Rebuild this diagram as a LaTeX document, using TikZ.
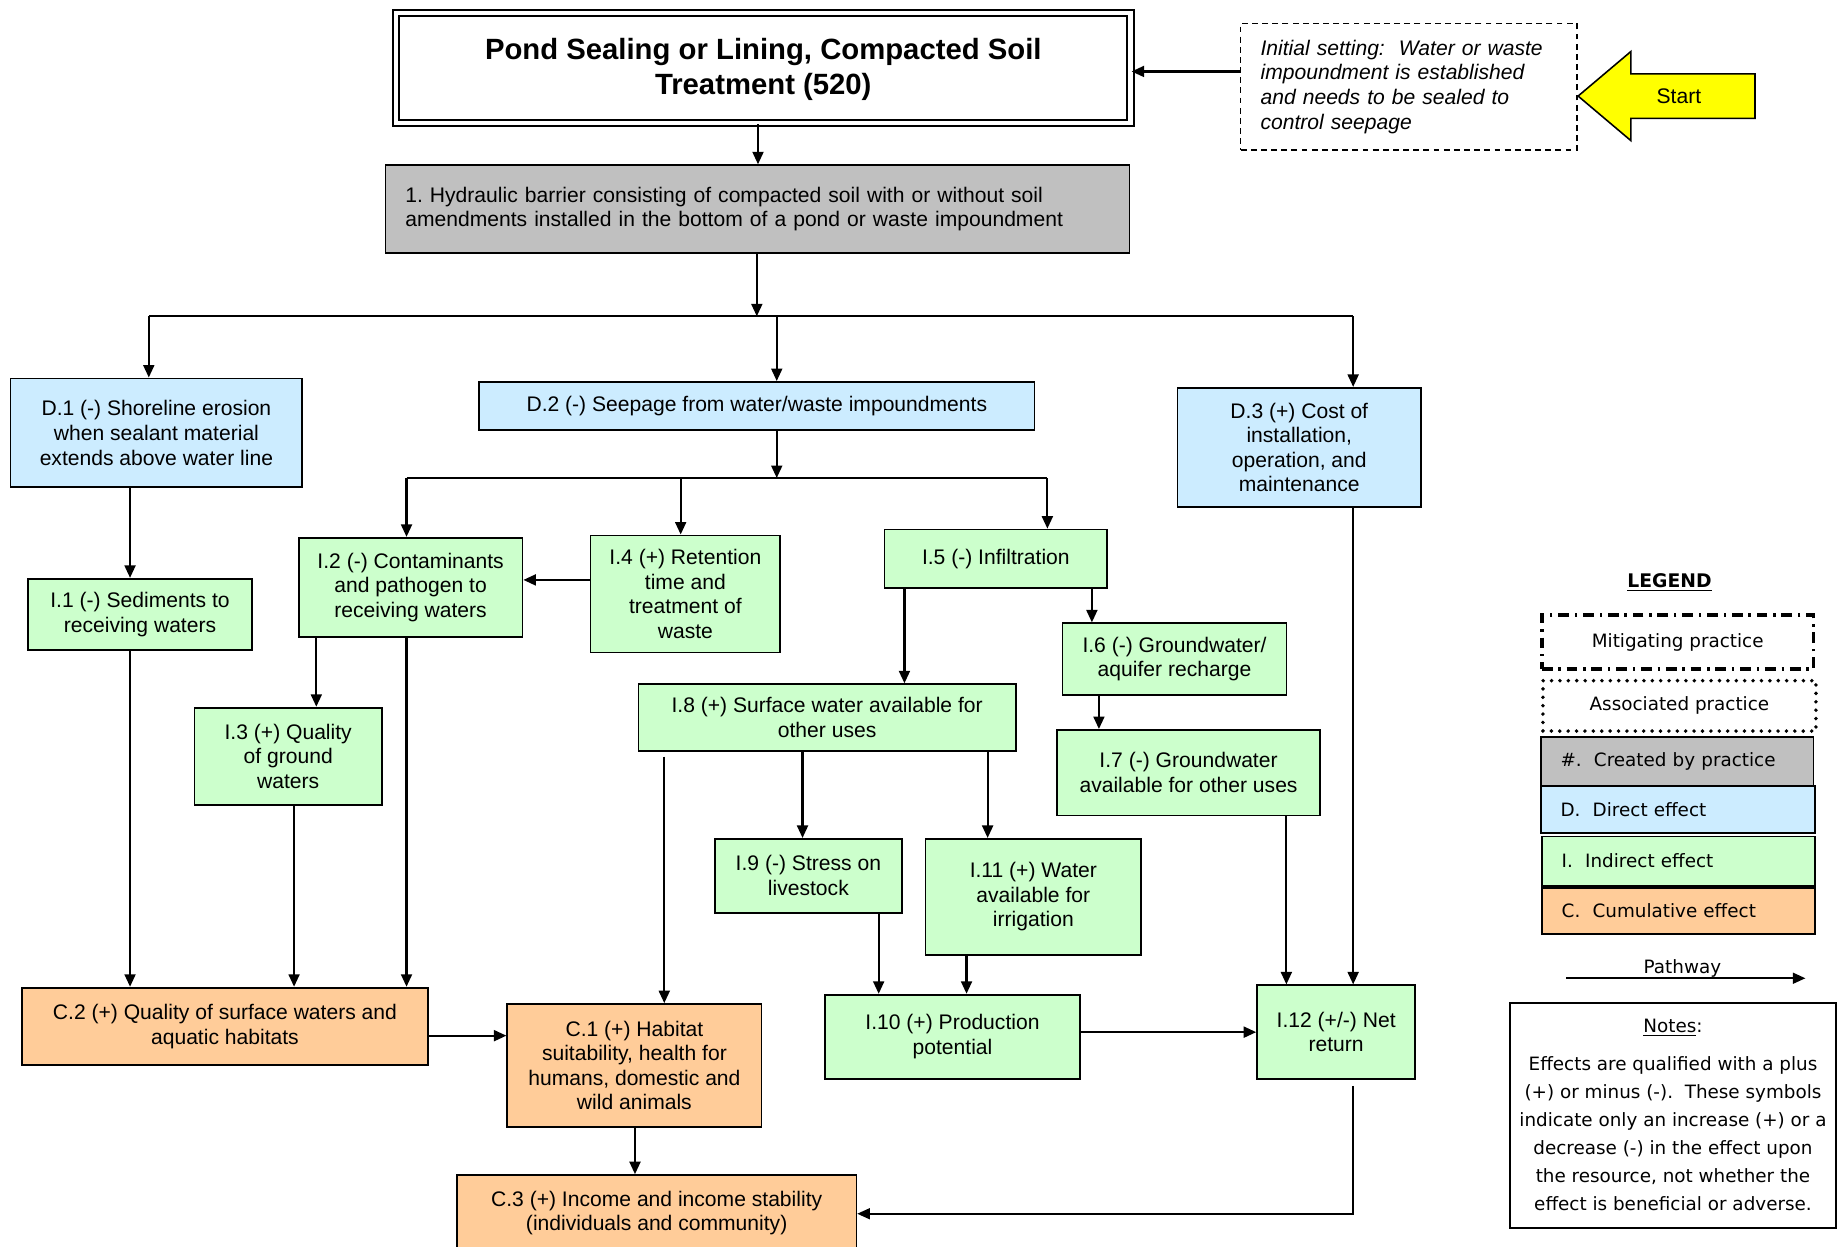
\documentclass[tikz,border=0pt]{standalone}
\usepackage{fontspec}
\setmainfont{Liberation Sans}
\newfontfamily\legendfont{DejaVu Sans}
\usetikzlibrary{arrows.meta}
\frenchspacing

\definecolor{createdgray}{HTML}{C0C0C0}
\definecolor{directblue}{HTML}{CCECFF}
\definecolor{indirectgreen}{HTML}{CCFFCC}
\definecolor{cumorange}{HTML}{FFCC99}
\definecolor{startyellow}{HTML}{FFFF00}

\newcommand\mainsz{\fontsize{10.8pt}{12.6pt}\selectfont}
\newcommand\legsz{\legendfont\fontsize{9.4pt}{14.4pt}\selectfont}

% box from its two corners: name, style, x1, y1, x2, y2, text
\newcommand\boxnode[7]{%
  \node[#2, minimum width={(#5-#3)*0.6pt}, minimum height={(#6-#4)*0.6pt}]
    (#1) at ({(#3+#5)/2},{(#4+#6)/2}) {#7};}

\tikzset{
  base/.style={draw, line width=0.9pt, inner sep=0pt, align=center, font=\mainsz},
  titlebox/.style={base, line width=1.1pt, double, double distance=2.2pt,
    font=\fontsize{15pt}{18pt}\selectfont\bfseries},
  initbox/.style={base, line width=0.7pt, dash pattern=on 3pt off 2.2pt,
    align=left, font=\mainsz\itshape},
  createdbox/.style={base, fill=createdgray, align=left},
  direct/.style={base, fill=directblue},
  indirect/.style={base, fill=indirectgreen},
  cumul/.style={base, fill=cumorange},
  legbox/.style={base, font=\legsz},
  conn/.style={line width=1.1pt},
  arr/.style={conn, -{Triangle[length=6.4pt,width=5.6pt]}},
}

\begin{document}
\begin{tikzpicture}[x=0.6pt, y=-0.6pt]
\useasboundingbox (0,0) rectangle (1568,1064);

% ---------- practice and setting ----------
\boxnode{title}{titlebox}{338}{11}{965}{105}{\strut Pond Sealing or Lining, Compacted Soil\\Treatment (520)}
\boxnode{init}{initbox, text width={(287-34)*0.6pt}}{1059}{20}{1346}{128}%
  {Initial setting:\ \ Water or waste\\impoundment is established\\and needs to be sealed to\\control seepage}
\boxnode{created}{createdbox, text width={(635-34)*0.6pt}}{329}{141}{964}{216}%
  {1. Hydraulic barrier consisting of compacted soil with or without soil\\amendments installed in the bottom of a pond or waste impoundment}

% start arrow
\draw[fill=startyellow, line width=0.8pt] (1347,82) -- (1392,44) -- (1392,63) -- (1498,63)
  -- (1498,101) -- (1392,101) -- (1392,120) -- cycle;
\node[font=\mainsz] (start) at (1433,82) {Start};

% ---------- direct effects ----------
\boxnode{d1}{direct}{9}{323}{258}{416}{D.1 (-) Shoreline erosion\\when sealant material\\extends above water line}
\boxnode{d2}{direct}{409}{326}{883}{367}{D.2 (-) Seepage from water/waste impoundments}
\boxnode{d3}{direct}{1005}{331}{1213}{433}{D.3 (+) Cost of\\installation,\\operation, and\\maintenance}

% ---------- indirect effects ----------
\boxnode{i1}{indirect}{24}{494}{215}{555}{I.1 (-) Sediments to\\receiving waters}
\boxnode{i2}{indirect}{255}{459}{446}{544}{I.2 (-) Contaminants\\and pathogen to\\receiving waters}
\boxnode{i3}{indirect}{166}{604}{326}{687}{I.3 (+) Quality\\of ground\\waters}
\boxnode{i4}{indirect}{504}{457}{666}{557}{I.4 (+) Retention\\time and\\treatment of\\waste}
\boxnode{i5}{indirect}{755}{452}{945}{502}{I.5 (-) Infiltration}
\boxnode{i6}{indirect}{907}{532}{1098}{593}{I.6 (-) Groundwater/\\aquifer recharge}
\boxnode{i7}{indirect}{902}{623}{1127}{696}{I.7 (-) Groundwater\\available for other uses}
\boxnode{i8}{indirect}{545}{584}{867}{641}{I.8 (+) Surface water available for\\other uses}
\boxnode{i9}{indirect}{610}{716}{770}{779}{I.9 (-) Stress on\\livestock}
\boxnode{i10}{indirect}{704}{849}{922}{921}{I.10 (+) Production\\potential}
\boxnode{i11}{indirect}{790}{716}{974}{815}{I.11 (+) Water\\available for\\irrigation}
\boxnode{i12}{indirect}{1073}{841}{1208}{921}{I.12 (+/-) Net\\return}

% ---------- cumulative effects ----------
\boxnode{c1}{cumul}{433}{857}{650}{962}{C.1 (+) Habitat\\suitability, health for\\humans, domestic and\\wild animals}
\boxnode{c2}{cumul}{19}{843}{365}{909}{C.2 (+) Quality of surface waters and\\aquatic habitats}
\boxnode{c3}{cumul}{390}{1003}{731}{1068}{C.3 (+) Income and income stability\\(individuals and community)}

% ---------- routing points ----------
\coordinate (hInit) at (0,61);
\coordinate (xMain) at (647,0);
\coordinate (busL) at (127,270);
\coordinate (busM) at (646,270);
\coordinate (busR) at (1155,270);
\coordinate (xD2) at (663,0);
\coordinate (bus2L) at (347,408);
\coordinate (bus2R) at (894,408);
\coordinate (xI4) at (581,0);
\coordinate (xI1) at (111,0);
\coordinate (hI24) at (0,495);
\coordinate (xI8) at (772,0);
\coordinate (xI6) at (932,0);
\coordinate (xI7) at (938,0);
\coordinate (xI7c) at (1098,0);
\coordinate (xI3) at (270,0);
\coordinate (xI2c) at (347,0);
\coordinate (xI3c) at (251,0);
\coordinate (hC2) at (0,884);
\coordinate (xC1) at (567,0);
\coordinate (xI9) at (685,0);
\coordinate (xI11) at (843,0);
\coordinate (xI9c) at (750,0);
\coordinate (xI11c) at (825,0);
\coordinate (hI10) at (0,881);
\coordinate (hC3) at (0,1036);
\coordinate (xC3) at (542,0);
\coordinate (bendC3) at (1155,1036);

% ---------- pathways ----------
\draw[arr] (init.west |- hInit) -- (title.east |- hInit);
\draw[arr] (title.south -| xMain) -- (created.north -| xMain);
\draw[arr] (created.south -| busM) -- (busM);
\draw[conn] (busL) -- (busR);
\draw[arr] (busL) -- (d1.north -| busL);
\draw[arr] (busM -| xD2) -- (d2.north -| xD2);
\draw[arr] (busR) -- (d3.north -| busR);

\draw[arr] (d2.south -| xD2) -- (bus2L -| xD2);
\draw[conn] (bus2L) -- (bus2R);
\draw[arr] (bus2L) -- (i2.north -| bus2L);
\draw[arr] (bus2L -| xI4) -- (i4.north -| xI4);
\draw[arr] (bus2R) -- (i5.north -| bus2R);

\draw[arr] (d1.south -| xI1) -- (i1.north -| xI1);
\draw[arr] (i4.west |- hI24) -- (i2.east |- hI24);
\draw[arr] (i5.south -| xI8) -- (i8.north -| xI8);
\draw[arr] (i5.south -| xI6) -- (i6.north -| xI6);
\draw[arr] (i6.south -| xI7) -- (i7.north -| xI7);
\draw[arr] (i7.south -| xI7c) -- (i12.north -| xI7c);
\draw[arr] (d3.south -| busR) -- (i12.north -| busR);

\draw[arr] (i2.south -| xI3) -- (i3.north -| xI3);
\draw[arr] (i2.south -| xI2c) -- (c2.north -| xI2c);
\draw[arr] (i1.south -| xI1) -- (c2.north -| xI1);
\draw[arr] (i3.south -| xI3c) -- (c2.north -| xI3c);
\draw[arr] (c2.east |- hC2) -- (c1.west |- hC2);

\draw[arr, shorten <=2.5pt] (i8.south -| xC1) -- (c1.north -| xC1);
\draw[arr] (i8.south -| xI9) -- (i9.north -| xI9);
\draw[arr] (i8.south -| xI11) -- (i11.north -| xI11);
\draw[arr] (i9.south -| xI9c) -- (i10.north -| xI9c);
\draw[arr] (i11.south -| xI11c) -- (i10.north -| xI11c);
\draw[arr] (i10.east |- hI10) -- (i12.west |- hI10);
\draw[arr, line width=0.8pt, shorten <=3pt] (i12.south -| busR) -- (bendC3) -- (c3.east |- hC3);
\draw[arr] (c1.south -| xC3) -- (c3.north -| xC3);

% ---------- legend ----------
\node[font=\legendfont\fontsize{9.6pt}{11pt}\selectfont\bfseries] (legendtitle) at (1425,497) {\underline{LEGEND}};
\boxnode{mitig}{legbox, line width=1.8pt, dash pattern=on 5.5pt off 3pt on 1.2pt off 3pt}{1316}{525}{1548}{571}{Mitigating practice}
\boxnode{assoc}{legbox, line width=2pt, line cap=round, dash pattern=on 0pt off 4.3pt}{1317}{581}{1550}{624}{Associated practice}
\boxnode{lcreated}{legbox, fill=createdgray, align=left, text width={(233-34)*0.6pt}}{1315}{629}{1548}{671}{\#.\ \ Created by practice}
\boxnode{ldirect}{legbox, fill=directblue, align=left, text width={(234-34)*0.6pt}}{1315}{671}{1549}{711}{D.\ \ Direct effect}
\boxnode{lindirect}{legbox, fill=indirectgreen, align=left, text width={(233-34)*0.6pt}}{1316}{714}{1549}{756}{I.\ \ Indirect effect}
\boxnode{lcumul}{legbox, fill=cumorange, align=left, text width={(233-34)*0.6pt}}{1316}{758}{1549}{797}{C.\ \ Cumulative effect}

\coordinate (pathA) at (1337,835);
\coordinate (pathB) at (1541,835);
\draw[arr, line width=0.9pt] (pathA) -- (pathB);
\node[font=\legsz] (pathlabel) at (1436,827) {Pathway};

\boxnode{notes}{legbox, line width=0.9pt}{1289}{856}{1567}{1048}%
  {\underline{Notes}:\\[4.8pt]Effects are qualified with a plus\\(+) or minus (-).\ \ These symbols\\indicate only an increase (+) or a\\decrease (-) in the effect upon\\the resource, not whether the\\effect is beneficial or adverse.}

\end{tikzpicture}
\end{document}
